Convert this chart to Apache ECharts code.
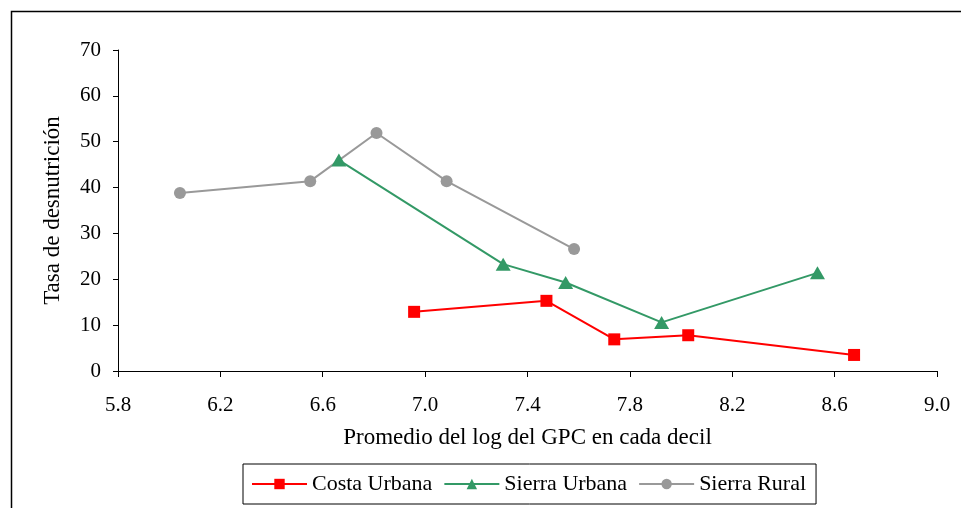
<!DOCTYPE html>
<html><head><meta charset="utf-8">
<script src="https://cdn.jsdelivr.net/npm/echarts@6/dist/echarts.min.js"></script>
<style>html,body{margin:0;padding:0;background:#fff}#c{width:961px;height:508px}</style>
</head><body><div id="c"></div>
<script>
const seriesNames = ['Costa Urbana', 'Sierra Urbana', 'Sierra Rural'];
const costaX = [6.957, 7.474, 7.739, 8.028, 8.676];
const costaY = [12.9, 15.3, 6.9, 7.8, 3.5];
const sierraUX = [6.663, 7.305, 7.549, 7.924, 8.533];
const sierraUY = [46.0, 23.3, 19.3, 10.6, 21.4];
const sierraRX = [6.042, 6.551, 6.810, 7.084, 7.582];
const sierraRY = [38.8, 41.4, 51.9, 41.4, 26.6];
const xTicks = ['5.8','6.2','6.6','7.0','7.4','7.8','8.2','8.6','9.0'];
const yTicks = ['0','10','20','30','40','50','60','70'];

const pair = (xs, ys) => xs.map((x, i) => [x, ys[i]]);
const font = 'Liberation Serif';
const chart = echarts.init(document.getElementById('c'));
chart.setOption({
  animation: false,
  backgroundColor: '#fff',
  textStyle: { fontFamily: font },
  graphic: [{
    type: 'rect', left: 9, top: 9, silent: true,
    shape: { width: 1000, height: 600 },
    style: { fill: 'none', stroke: '#000', lineWidth: 1.5 }
  }],
  grid: { left: 118, top: 50, right: 24, bottom: 137 },
  legend: {
    left: 243, top: 464,
    itemWidth: 55, itemHeight: 13, itemGap: 11,
    padding: [9, 10, 9, 8],
    borderColor: '#000', borderWidth: 1,
    textStyle: { fontFamily: font, fontSize: 22, color: '#000' },
    data: seriesNames
  },
  xAxis: {
    type: 'value', min: 5.8, max: 9.0, interval: 0.4,
    name: 'Promedio del log del GPC en cada decil',
    nameLocation: 'middle', nameGap: 55,
    nameTextStyle: { fontFamily: font, fontSize: 23, color: '#000' },
    axisLine: { show: true, onZero: false, lineStyle: { color: '#000', width: 1 } },
    axisTick: { show: true, inside: false, length: 6, lineStyle: { color: '#000' } },
    axisLabel: { fontFamily: font, fontSize: 21, color: '#000', margin: 24,
      formatter: v => xTicks[Math.round((v - 5.8) / 0.4)] || v.toFixed(1) },
    splitLine: { show: false }
  },
  yAxis: {
    type: 'value', min: 0, max: 70, interval: 10,
    name: 'Tasa de desnutrición',
    nameLocation: 'middle', nameGap: 54, nameRotate: 90,
    nameTextStyle: { fontFamily: font, fontSize: 23, color: '#000' },
    axisLine: { show: true, lineStyle: { color: '#000', width: 1 } },
    axisTick: { show: true, inside: false, length: 5, lineStyle: { color: '#000' } },
    axisLabel: { fontFamily: font, fontSize: 21, color: '#000', margin: 17,
      formatter: v => yTicks[Math.round(v / 10)] },
    splitLine: { show: false }
  },
  series: [
    { name: seriesNames[0], type: 'line', data: pair(costaX, costaY),
      symbol: 'rect', symbolSize: 12, itemStyle: { color: '#ff0000' },
      lineStyle: { color: '#ff0000', width: 2 } },
    { name: seriesNames[1], type: 'line', data: pair(sierraUX, sierraUY),
      symbol: 'triangle', symbolSize: [15, 13], itemStyle: { color: '#339966' },
      lineStyle: { color: '#339966', width: 2 } },
    { name: seriesNames[2], type: 'line', data: pair(sierraRX, sierraRY),
      symbol: 'circle', symbolSize: 12, itemStyle: { color: '#999999' },
      lineStyle: { color: '#999999', width: 2 } }
  ]
});
</script></body></html>
